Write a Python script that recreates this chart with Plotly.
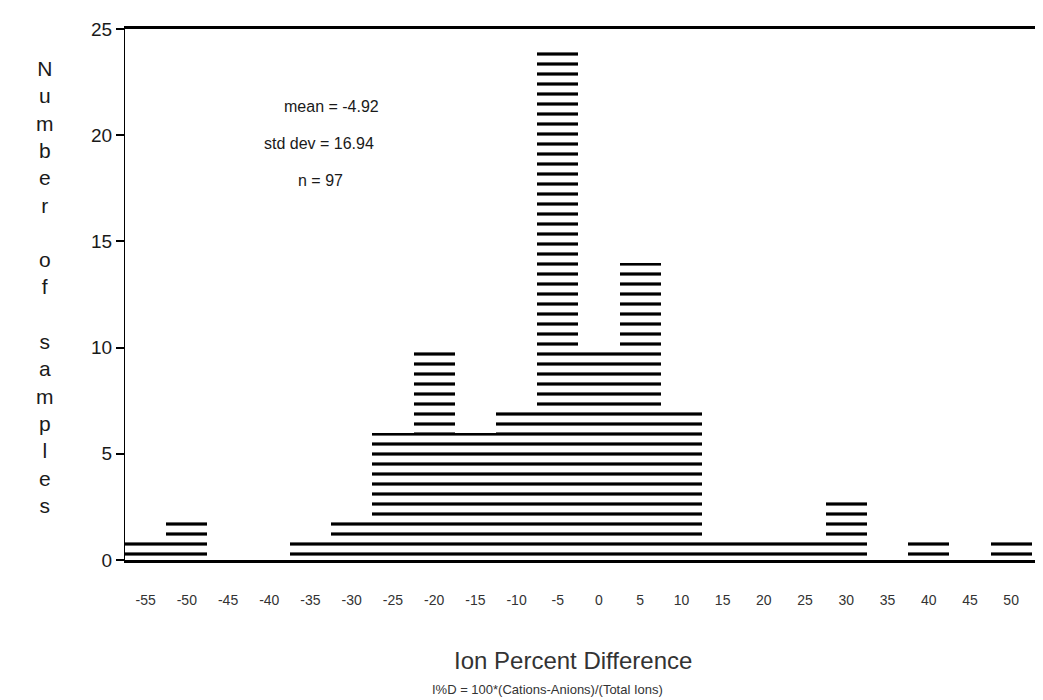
import plotly.graph_objects as go

# Data
bin_centers = [-55, -50, -45, -40, -35, -30, -25, -20, -15, -10, -5, 0, 5, 10, 15, 20, 25, 30, 35, 40, 45, 50]
counts = [1, 2, 0, 0, 1, 2, 6, 10, 6, 7, 24, 10, 14, 7, 1, 1, 1, 3, 0, 1, 0, 1]
tick_labels = [str(v) for v in bin_centers]
y_ticks = [0, 5, 10, 15, 20, 25]
stats_lines = ["mean = -4.92", "std dev = 16.94", "n = 97"]
ylabel_letters = ["N", "u", "m", "b", "e", "r", "", "o", "f", "", "s", "a", "m", "p", "l", "e", "s"]

FONT = "Liberation Sans"
INK = "#1a1a1a"

fig = go.Figure()
fig.add_trace(go.Bar(
    x=bin_centers,
    y=counts,
    width=5,
    marker=dict(
        color="white",
        line=dict(width=0),
        pattern=dict(shape="-", fgcolor="black", bgcolor="white", fgopacity=1,
                     size=10, solidity=0.32, fillmode="replace"),
    ),
    showlegend=False,
))

# statistics block
stat_pos = [(-32.5, 21.35), (-34.0, 19.6), (-33.8, 17.85)]
for txt, (sx, sy) in zip(stats_lines, stat_pos):
    fig.add_annotation(x=sx, y=sy, xref="x", yref="y", text=txt, showarrow=False,
                       font=dict(family=FONT, size=16, color=INK))

# vertical stacked y title
fig.add_annotation(x=-0.087, y=0.515, xref="paper", yref="paper",
                   text="<br>".join(ylabel_letters), showarrow=False,
                   xanchor="center", yanchor="middle", align="center",
                   font=dict(family=FONT, size=21, color=INK))

# x titles
fig.add_annotation(x=0.49, y=-0.19, xref="paper", yref="paper", text="Ion Percent Difference",
                   showarrow=False, yanchor="middle",
                   font=dict(family=FONT, size=24, color="#333333"))
fig.add_annotation(x=0.462, y=-0.244, xref="paper", yref="paper",
                   text="I%D = 100*(Cations-Anions)/(Total Ions)",
                   showarrow=False, yanchor="middle",
                   font=dict(family=FONT, size=13, color="#333333"))

# faint right border
fig.add_shape(type="line", xref="paper", yref="paper", x0=1, x1=1, y0=0.05, y1=0.55,
              line=dict(color="#666666", width=1, dash="dot"))

fig.update_layout(
    width=1043, height=700,
    margin=dict(l=117, r=11, t=21, b=148),
    plot_bgcolor="white", paper_bgcolor="white",
    bargap=0,
    font=dict(family=FONT, color=INK),
    xaxis=dict(
        range=[-57.5, 53.5],
        tickvals=bin_centers, ticktext=tick_labels,
        showgrid=False, zeroline=False,
        showline=True, linecolor="black", linewidth=3, mirror=True,
        ticks="", ticklabelstandoff=25,
        tickfont=dict(family=FONT, size=14, color="#333333"),
    ),
    yaxis=dict(
        range=[0, 25],
        tickvals=y_ticks,
        showgrid=False, zeroline=False,
        showline=True, linecolor="black", linewidth=1,
        ticks="outside", ticklen=8, tickcolor="black", tickwidth=2,
        tickfont=dict(family=FONT, size=19, color=INK),
    ),
)

fig.write_html("out.html")
